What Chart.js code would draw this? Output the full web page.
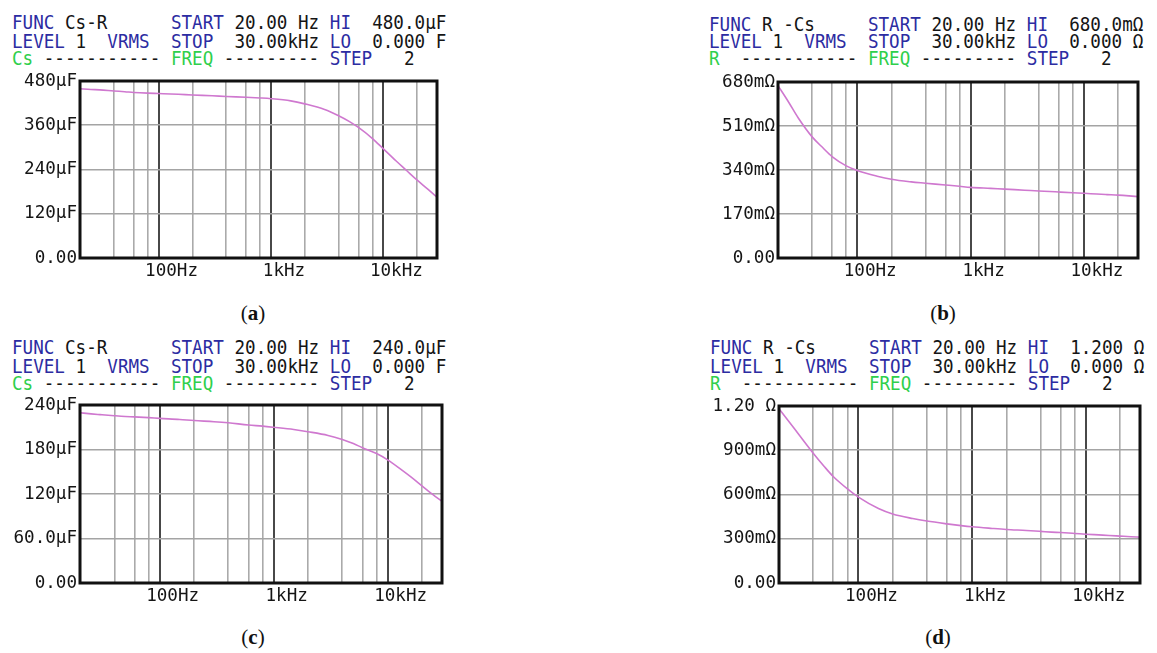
<!DOCTYPE html>
<html>
<head>
<meta charset="utf-8">
<script src="https://cdn.jsdelivr.net/npm/chart.js@4/dist/chart.umd.min.js"></script>
<style>
  html, body { margin: 0; padding: 0; background: #fff; }
  body { position: relative; width: 1157px; height: 653px; overflow: hidden; }
  canvas { position: absolute; }
  .row {
    position: absolute; white-space: pre; margin: 0;
    font-family: "DejaVu Sans Mono", monospace; font-size: 17.6px; line-height: 18px;
    color: #151515; transform: scaleY(1.12); transform-origin: 0 15px;
  }
  .b { color: #2c2ca2; }
  .g { color: #2fcf4c; }
  .cap {
    position: absolute; width: 60px; margin-left: -30px; text-align: center;
    font-family: "Liberation Serif", "DejaVu Serif", serif; font-size: 21px; line-height: 20px; color: #111;
  }
</style>
</head>
<body>

<div class="row" style="left:12px;top:14px"><span class="b">FUNC</span> Cs-R      <span class="b">START</span> 20.00 Hz <span class="b">HI</span>  480.0µF</div>
<div class="row" style="left:12px;top:33px"><span class="b">LEVEL</span> 1  <span class="b">VRMS</span>  <span class="b">STOP</span>  30.00kHz <span class="b">LO</span>  0.000 F</div>
<div class="row" style="left:12px;top:50px"><span class="g">Cs</span> ----------- <span class="g">FREQ</span> --------- <span class="b">STEP</span>   2</div>

<div class="row" style="left:709px;top:16px"><span class="b">FUNC</span> R -Cs     <span class="b">START</span> 20.00 Hz <span class="b">HI</span>  680.0mΩ</div>
<div class="row" style="left:709px;top:33px"><span class="b">LEVEL</span> 1  <span class="b">VRMS</span>  <span class="b">STOP</span>  30.00kHz <span class="b">LO</span>  0.000 Ω</div>
<div class="row" style="left:709px;top:50px"><span class="g">R</span>  ----------- <span class="g">FREQ</span> --------- <span class="b">STEP</span>   2</div>

<div class="row" style="left:12px;top:339px"><span class="b">FUNC</span> Cs-R      <span class="b">START</span> 20.00 Hz <span class="b">HI</span>  240.0µF</div>
<div class="row" style="left:12px;top:358px"><span class="b">LEVEL</span> 1  <span class="b">VRMS</span>  <span class="b">STOP</span>  30.00kHz <span class="b">LO</span>  0.000 F</div>
<div class="row" style="left:12px;top:375px"><span class="g">Cs</span> ----------- <span class="g">FREQ</span> --------- <span class="b">STEP</span>   2</div>

<div class="row" style="left:710px;top:339px"><span class="b">FUNC</span> R -Cs     <span class="b">START</span> 20.00 Hz <span class="b">HI</span>  1.200 Ω</div>
<div class="row" style="left:710px;top:358px"><span class="b">LEVEL</span> 1  <span class="b">VRMS</span>  <span class="b">STOP</span>  30.00kHz <span class="b">LO</span>  0.000 Ω</div>
<div class="row" style="left:710px;top:375px"><span class="g">R</span>  ----------- <span class="g">FREQ</span> --------- <span class="b">STEP</span>   2</div>

<canvas id="chartA"></canvas>
<canvas id="chartB"></canvas>
<canvas id="chartC"></canvas>
<canvas id="chartD"></canvas>

<div class="cap" style="left:253px;top:303px">(<b>a</b>)</div>
<div class="cap" style="left:943px;top:303px">(<b>b</b>)</div>
<div class="cap" style="left:253px;top:627px">(<b>c</b>)</div>
<div class="cap" style="left:938px;top:627px">(<b>d</b>)</div>

<script>
// sweep frequencies (Hz), shared by all four panels
const freqs = [20, 25, 30, 40, 50, 60, 80, 100, 150, 200, 300, 400, 600, 800, 1000,
    1500, 2000, 3000, 4000, 5000, 6000, 8000, 10000, 13000, 16000, 20000, 25000, 30000];

// (a) Cs in µF
const capA = [459, 457, 456, 453, 451, 449, 447, 446, 444, 442, 440, 438, 436, 434, 432,
    426, 418, 403, 386, 370, 354, 324, 296, 263, 238, 211, 186, 165];
// (b) R in mΩ
const resB = [666, 600, 543, 468, 425, 392, 356, 338, 316, 304, 294, 289, 282, 277, 273,
    269, 266, 262, 259, 257, 255, 252, 250, 247, 245, 243, 240, 237];
// (c) Cs in µF
const capC = [229.5, 228, 227, 225.5, 224.5, 224, 223, 222, 220.5, 219, 217.5, 216, 213, 211.5, 210,
    207, 204, 199, 193.5, 188, 182.5, 174.5, 166, 153.5, 143, 131, 119, 110];
// (d) R in mΩ
const resD = [1182, 1085, 1005, 880, 790, 722, 638, 582, 505, 468, 437, 420, 401, 389, 381,
    370, 363, 356, 350, 345, 342, 336, 331, 326, 322, 318, 314, 311];

// axis ticks
const xGridFreqs = [40, 60, 80, 100, 200, 400, 600, 800, 1000, 2000, 4000, 6000, 8000, 10000, 20000];
const xDecades = [100, 1000, 10000];
const xDecadeLabels = ["100Hz", "1kHz", "10kHz"];

const yLabelsA = ["0.00", "120µF", "240µF", "360µF", "480µF"];
const yLabelsB = ["0.00", "170mΩ", "340mΩ", "510mΩ", "680mΩ"];
const yLabelsC = ["0.00", "60.0µF", "120µF", "180µF", "240µF"];
const yLabelsD = ["0.00", "300mΩ", "600mΩ", "900mΩ", "1.20 Ω"];

const tickFont = { family: "DejaVu Sans Mono", size: 17.6 };

const framePlugin = {
    id: "frame",
    afterDatasetsDraw(chart) {
        const { ctx, chartArea: a } = chart;
        ctx.save();
        ctx.strokeStyle = "#111";
        ctx.lineWidth = 3;
        ctx.strokeRect(a.left, a.top, a.right - a.left, a.bottom - a.top);
        ctx.restore();
    }
};

function makePanel(id, box, values, yMax, yLabels) {
    const canvas = document.getElementById(id);
    canvas.width = box.r - box.l + 100;
    canvas.height = box.b - box.t + 55;
    canvas.style.left = (box.l - 80) + "px";
    canvas.style.top = (box.t - 20) + "px";

    new Chart(canvas, {
        type: "line",
        data: {
            datasets: [{
                data: freqs.map((f, i) => ({ x: f, y: values[i] })),
                borderColor: "#cf78cf",
                borderWidth: 1.6,
                pointRadius: 0,
                cubicInterpolationMode: "monotone"
            }]
        },
        options: {
            responsive: false,
            animation: false,
            layout: { padding: { left: 0, top: 20, right: 20, bottom: 0 } },
            plugins: { legend: { display: false }, tooltip: { enabled: false } },
            scales: {
                x: {
                    type: "logarithmic",
                    min: 20,
                    max: 30000,
                    afterBuildTicks: (scale) => {
                        scale.ticks = xGridFreqs.map(v => ({ value: v }));
                    },
                    afterFit: (scale) => { scale.height = 35; },
                    border: { display: false },
                    grid: {
                        drawTicks: false,
                        color: (c) => xDecades.includes(c.tick && c.tick.value) ? "#484848" : "#aaaaaa",
                        lineWidth: (c) => xDecades.includes(c.tick && c.tick.value) ? 2 : 1.6
                    },
                    ticks: {
                        autoSkip: false,
                        maxRotation: 0,
                        padding: 3,
                        labelOffset: 13,
                        color: "#151515",
                        font: tickFont,
                        callback: (value) => {
                            const k = xDecades.indexOf(value);
                            return k >= 0 ? xDecadeLabels[k] : "";
                        }
                    }
                },
                y: {
                    min: 0,
                    max: yMax,
                    afterFit: (scale) => { scale.width = 80; },
                    border: { display: false },
                    grid: { drawTicks: false, color: "#a4a4a4", lineWidth: 1.6 },
                    ticks: {
                        stepSize: yMax / 4,
                        padding: 3,
                        color: "#151515",
                        font: tickFont,
                        callback: (value, index) => yLabels[index]
                    }
                }
            }
        },
        plugins: [framePlugin]
    });
}

makePanel("chartA", { l: 80, t: 81, r: 437, b: 258 }, capA, 480, yLabelsA);
makePanel("chartB", { l: 778, t: 82, r: 1138, b: 258 }, resB, 680, yLabelsB);
makePanel("chartC", { l: 80, t: 405, r: 442, b: 583 }, capC, 240, yLabelsC);
makePanel("chartD", { l: 779, t: 406, r: 1140, b: 583 }, resD, 1200, yLabelsD);
</script>
</body>
</html>
